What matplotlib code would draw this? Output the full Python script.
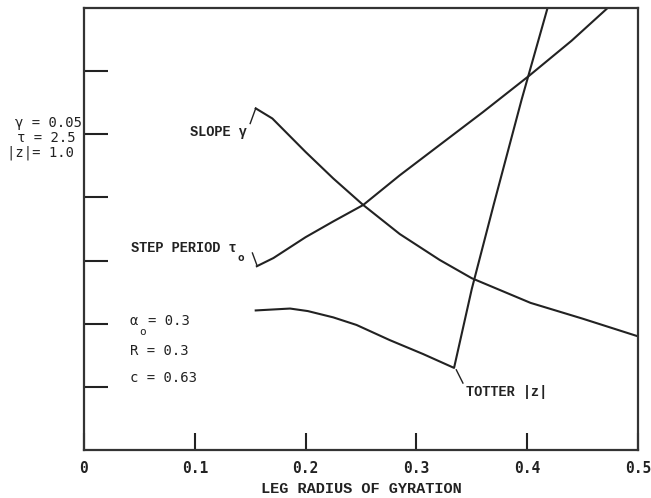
import matplotlib.pyplot as plt

# Data (y in tick units, 0..7)
slope_x = [0.155, 0.170, 0.200, 0.225, 0.252, 0.285, 0.321, 0.350, 0.403, 0.450, 0.500]
slope_y = [5.41, 5.25, 4.72, 4.30, 3.88, 3.42, 3.01, 2.72, 2.33, 2.08, 1.80]

step_x = [0.156, 0.171, 0.200, 0.225, 0.252, 0.285, 0.321, 0.360, 0.402, 0.440, 0.472]
step_y = [2.91, 3.04, 3.37, 3.62, 3.88, 4.35, 4.83, 5.35, 5.93, 6.48, 6.99]

totter_x = [0.155, 0.186, 0.202, 0.225, 0.246, 0.276, 0.306, 0.334, 0.350, 0.370, 0.395, 0.420]
totter_y = [2.21, 2.24, 2.20, 2.10, 1.98, 1.74, 1.52, 1.30, 2.55, 3.90, 5.55, 7.10]

x_ticks = [0, 0.1, 0.2, 0.3, 0.4, 0.5]
x_tick_labels = ['0', '0.1', '0.2', '0.3', '0.4', '0.5']
y_ticks = [1, 2, 3, 4, 5, 6]

mono = 'DejaVu Sans Mono'
serif_mono = 'Liberation Mono'

fig = plt.figure(figsize=(6.51, 4.98), dpi=100)
ax = fig.add_axes([0.129, 0.0964, 0.851, 0.8876])

lw = 1.5
ax.plot(slope_x, slope_y, color='#222222', lw=lw)
ax.plot(step_x, step_y, color='#222222', lw=lw)
ax.plot(totter_x, totter_y, color='#222222', lw=lw)

ax.set_xlim(0, 0.5)
ax.set_ylim(0, 7)
ax.set_xticks(x_ticks)
ax.set_xticklabels(x_tick_labels, family=mono, fontsize=10.5, fontweight='bold')
ax.set_yticks(y_ticks)
ax.set_yticklabels([])
ax.tick_params(axis='x', direction='in', length=12, width=1.5, pad=8, colors='#222222')
ax.tick_params(axis='y', direction='in', length=17, width=1.5, colors='#222222')
for s in ax.spines.values():
    s.set_linewidth(1.6)
    s.set_color('#333333')

ax.set_xlabel('LEG RADIUS OF GYRATION', family=serif_mono, fontsize=11,
              fontweight='bold', labelpad=4, color='#222222')

# curve labels with leader lines
lab = dict(family=serif_mono, fontsize=9.8, fontweight='bold', color='#222222')
ax.text(0.147, 5.03, 'SLOPE γ', ha='right', va='center', **lab)
ax.plot([0.150, 0.155], [5.17, 5.41], color='#222222', lw=1)

ax.text(0.138, 3.20, 'STEP PERIOD τ', ha='right', va='center', **lab)
ax.text(0.139, 3.04, 'o', ha='left', va='center', family=mono, fontsize=8,
        fontweight='bold', color='#222222')
ax.plot([0.152, 0.156], [3.12, 2.93], color='#222222', lw=1)

ax.text(0.345, 0.92, 'TOTTER |z|', ha='left', va='center', **lab)
ax.plot([0.336, 0.342], [1.27, 1.06], color='#222222', lw=1)

# parameter notes
par = dict(family=mono, fontsize=10, color='#222222')
fig.text(15 / 651, 1 - 123 / 498, 'γ = 0.05', ha='left', va='center', **par)
fig.text(17 / 651, 1 - 138 / 498, 'τ = 2.5', ha='left', va='center', **par)
fig.text(7 / 651, 1 - 153 / 498, '|z|= 1.0', ha='left', va='center', **par)

ax.text(0.0415, 2.05, 'α', ha='left', va='center', **par)
ax.text(0.050, 1.87, 'o', ha='left', va='center', family=mono, fontsize=8, color='#222222')
ax.text(0.0578, 2.05, '= 0.3', ha='left', va='center', **par)
ax.text(0.0415, 1.57, 'R = 0.3', ha='left', va='center', **par)
ax.text(0.0415, 1.14, 'c = 0.63', ha='left', va='center', **par)

fig.savefig('out.png', dpi=100)
